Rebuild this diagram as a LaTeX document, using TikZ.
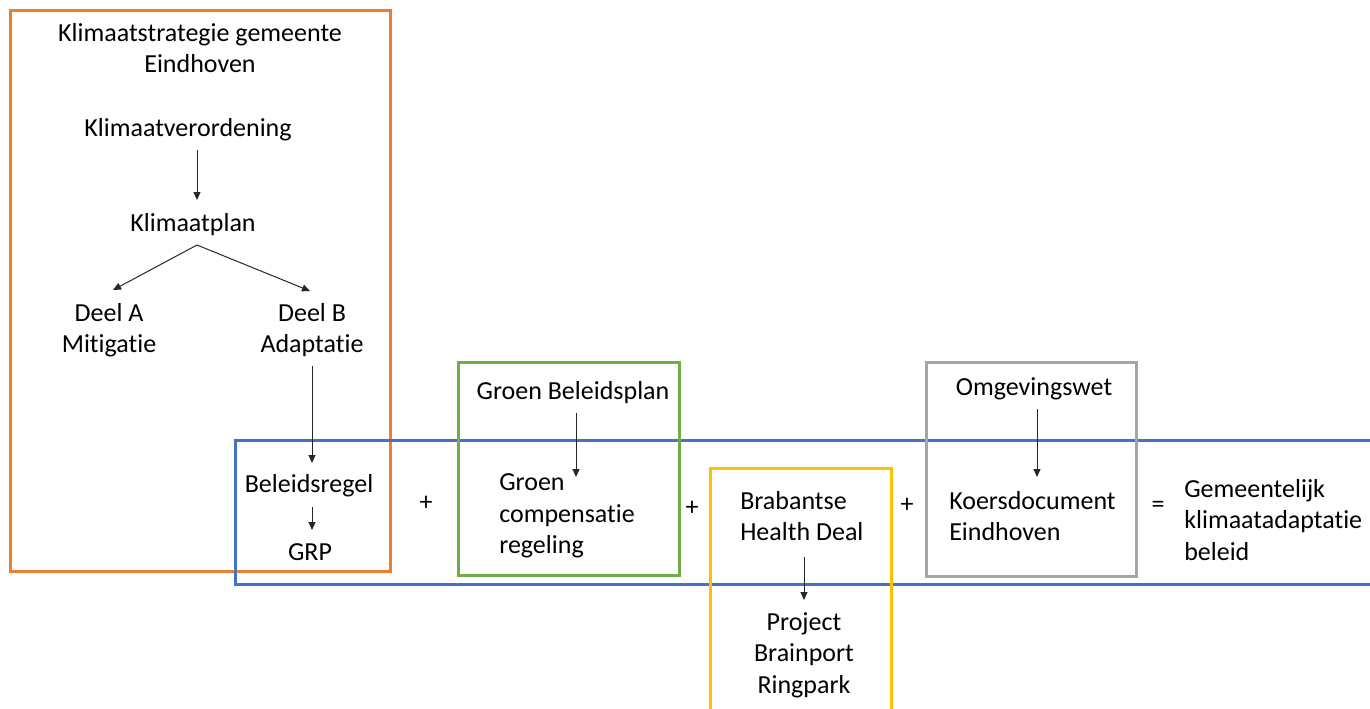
\documentclass[tikz,border=0pt]{standalone}
\usepackage{fontspec}
\setmainfont{Carlito}[RawFeature={-liga;-clig;-dlig}]
\usetikzlibrary{arrows.meta,calc}
\definecolor{cOrange}{HTML}{ED7D31}
\definecolor{cBlue}{HTML}{4472C4}
\definecolor{cGreen}{HTML}{70AD47}
\definecolor{cYellow}{HTML}{FFC000}
\definecolor{cGray}{HTML}{A5A5A5}
\tikzset{
  txt/.style={inner sep=0pt, font=\fontsize{19.5pt}{23.5pt}\selectfont, text=black},
  frame/.style={line width=2.25pt},
  conn/.style={draw=black!85, line width=0.75pt, -{Triangle[length=6pt,width=5.25pt]}},
}
\begin{document}
\begin{tikzpicture}[x=0.75pt,y=-0.75pt]
\useasboundingbox (0,0) rectangle (1370,708);
\clip (0,0) rectangle (1370,708);
\fill[white] (0,0) rectangle (1370,708);

% frames
\draw[frame,cOrange] (10,10) rectangle (390,571);
\draw[frame,cBlue] (235,440) rectangle (1380,584);
\draw[frame,cGreen] (458,362) rectangle (679,575);
\draw[frame,cYellow] (710,468) rectangle (891,720);
\draw[frame,cGray] (926,362) rectangle (1136,576);

% texts
\node[txt,align=center] (ks) at (200,48) {Klimaatstrategie gemeente\\Eindhoven};
\node[txt] (kv) at (188,130) {Klimaatverordening};
\node[txt] (kp) at (193,225) {Klimaatplan};
\node[txt,align=center] (da) at (109,330) {Deel A\\Mitigatie};
\node[txt,align=center] (db) at (312,330) {Deel B\\Adaptatie};
\node[txt] (br) at (309,486) {Beleidsregel};
\node[txt] (grp) at (310,552) {GRP};
\node[txt] (p1) at (426,503) {+};
\node[txt] (gb) at (573,393) {Groen Beleidsplan};
\node[txt,align=left,anchor=west] (gc) at (499,516) {Groen\\compensatie\\regeling};
\node[txt] (p2) at (692,508) {+};
\node[txt,align=left,anchor=west] (bhd) at (740,516) {Brabantse\\Health Deal};
\node[txt,align=center] (pbr) at (804,655) {Project\\Brainport\\Ringpark};
\node[txt] (p3) at (907,505) {+};
\node[txt] (ow) at (1034,389) {Omgevingswet};
\node[txt,align=left,anchor=west] (kd) at (949,516) {Koersdocument\\Eindhoven};
\node[txt] (eq) at (1158,507) {=};
\node[txt,align=left,anchor=west] (gk) at (1184,520) {Gemeentelijk\\klimaatadaptatie\\beleid};

% connectors
\draw[conn] ($(kv)+(9,20)$) -- ($(kp)+(4,-25)$);
\draw[conn] ($(kp)+(4,20)$) -- ($(da)+(4,-40)$);
\draw[conn] ($(kp)+(4,20)$) -- ($(db)+(-2,-39)$);
\draw[conn] ($(db)+(0,36)$) -- ($(br)+(3,-23)$);
\draw[conn] ($(br)+(3,21)$) -- ($(grp)+(2,-22)$);
\draw[conn] ($(gb)+(3,20)$) -- ($(gc.west)+(77,-39)$);
\draw[conn] ($(bhd.west)+(64,41)$) -- ($(pbr)+(0,-55)$);
\draw[conn] ($(ow)+(3,20)$) -- ($(kd.west)+(88,-39)$);
\end{tikzpicture}
\end{document}
